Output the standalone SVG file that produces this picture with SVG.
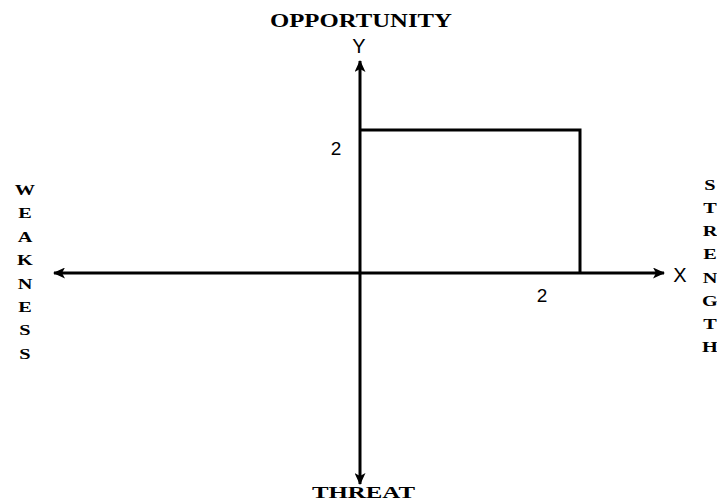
<svg xmlns="http://www.w3.org/2000/svg" width="717" height="501" viewBox="0 0 717 501">
<style>
.ax{stroke:#000;stroke-width:3;fill:none}
.lbl{font-family:"Liberation Serif","Times New Roman",serif;font-weight:bold;fill:#000}
.v{font-family:"Liberation Serif","Times New Roman",serif;font-weight:bold;font-size:14.5px;fill:#000;text-anchor:middle}
.s{font-family:"Liberation Sans",Arial,sans-serif;fill:#000}
</style>
<defs>
<marker id="ah" viewBox="0 0 12 11" refX="11" refY="5.5" markerWidth="12" markerHeight="11" markerUnits="userSpaceOnUse" orient="auto">
<path d="M0,0 L12,5.5 L0,11 L3,5.5 Z" fill="#000"/>
</marker>
</defs>
<g id="connectors">
<line class="ax" x1="360" y1="273" x2="360" y2="61" marker-end="url(#ah)"/>
<line class="ax" x1="360" y1="273" x2="360" y2="484" marker-end="url(#ah)"/>
<line class="ax" x1="360" y1="273" x2="664" y2="273" marker-end="url(#ah)"/>
<line class="ax" x1="360" y1="273" x2="54" y2="273" marker-end="url(#ah)"/>
</g>
<g id="rect">
<path class="ax" d="M360,130 L580,130 L580,273"/>
</g>
<g id="opportunity"><text class="lbl" x="270" y="27" font-size="18" textLength="182" lengthAdjust="spacingAndGlyphs">OPPORTUNITY</text></g>
<g id="threat"><text class="lbl" x="312" y="498" font-size="17.5" textLength="103" lengthAdjust="spacingAndGlyphs">THREAT</text></g>
<g id="y-label"><text class="s" x="359" y="53" font-size="20" text-anchor="middle">Y</text></g>
<g id="x-label"><text class="s" x="680" y="282" font-size="20" text-anchor="middle">X</text></g>
<g id="tick-y"><text class="s" x="336" y="155" font-size="19" text-anchor="middle">2</text></g>
<g id="tick-x"><text class="s" x="542" y="302" font-size="19" text-anchor="middle">2</text></g>
<g id="weakness" transform="translate(25,0) scale(1.4,1)">
<text class="v" x="0" y="195">W</text>
<text class="v" x="0" y="218.4">E</text>
<text class="v" x="0" y="241.8">A</text>
<text class="v" x="0" y="265.2">K</text>
<text class="v" x="0" y="288.6">N</text>
<text class="v" x="0" y="312">E</text>
<text class="v" x="0" y="335.4">S</text>
<text class="v" x="0" y="358.8">S</text>
</g>
<g id="strength" transform="translate(710,0) scale(1.4,1)">
<text class="v" x="0" y="190">S</text>
<text class="v" x="0" y="213.1">T</text>
<text class="v" x="0" y="236.3">R</text>
<text class="v" x="0" y="259.4">E</text>
<text class="v" x="0" y="282.6">N</text>
<text class="v" x="0" y="305.7">G</text>
<text class="v" x="0" y="328.9">T</text>
<text class="v" x="0" y="352">H</text>
</g>
</svg>
